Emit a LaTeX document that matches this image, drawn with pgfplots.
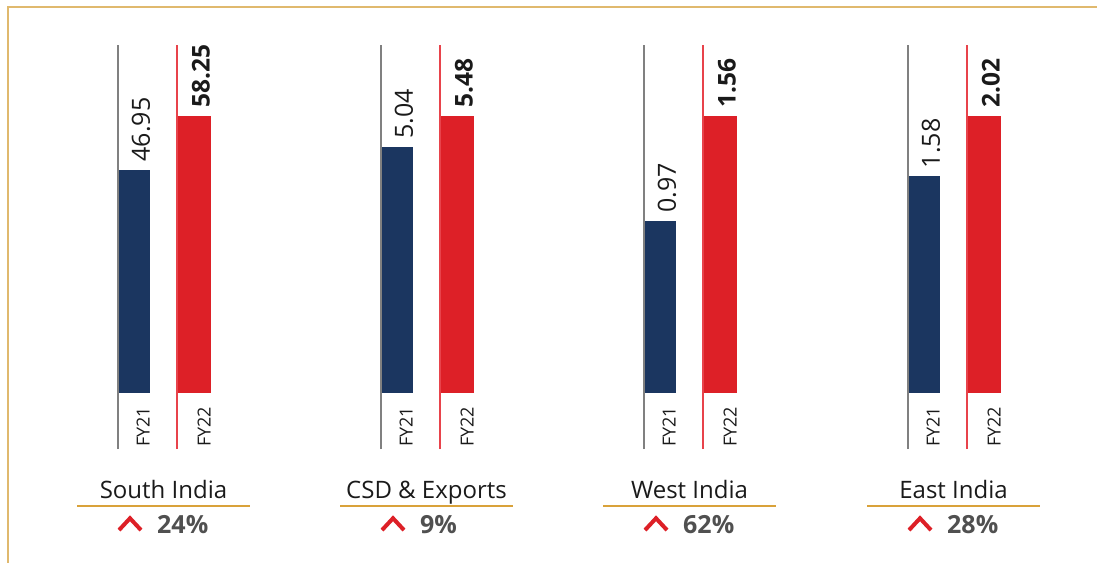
\documentclass[border=0pt]{standalone}
\usepackage{pgfplots}
\pgfplotsset{compat=1.18}
\usepackage{fontspec}
\setmainfont{Open Sans}

\definecolor{navy}{HTML}{1B3660}
\definecolor{bred}{HTML}{DD2027}
\definecolor{lred}{HTML}{E8434B}
\definecolor{framec}{HTML}{E0B96E}
\definecolor{gold}{HTML}{D9A23A}
\definecolor{pctgray}{HTML}{505050}
\definecolor{txt}{HTML}{1A1A1A}

\pgfplotsset{
  region/.style={
    at={(#1bp,170bp)}, anchor=south west,
    width=100bp, height=348bp, scale only axis,
    xmin=0, xmax=100,
    hide axis, clip mode=individual,
    ybar, bar shift=0pt,
    nodes near coords,
    /pgf/number format/.cd, fixed, fixed zerofill, precision=2, assume math mode=true,
    /pgfplots/.cd,
    every node near coord/.append style={xshift=7.5bp, yshift=8bp, rotate=90,
      anchor=west, inner sep=0pt, text=txt},
  }
}

% #1 left edge (px), #2 ymin, #3 ymax, #4 FY21, #5 FY22, #6 name, #7 growth
\newcommand\region[7]{%
  \begin{axis}[region=#1, ymin=#2, ymax=#3]
    \addplot[fill=navy, draw=none, bar width=33bp,
      every node near coord/.append style={font=\fontsize{25bp}{30bp}\selectfont}]
      coordinates {(16.5,#4)};
    \addplot[fill=bred, draw=none, bar width=35bp,
      every node near coord/.append style={font=\bfseries\fontsize{24.5bp}{30bp}\selectfont}]
      coordinates {(76.5,#5)};
    \draw[gray, line width=2.5bp] (rel axis cs:0.012,-0.161) -- (rel axis cs:0.012,1);
    \draw[lred, line width=2.5bp] (rel axis cs:0.602,-0.161) -- (rel axis cs:0.602,1);
    \node[rotate=90, anchor=west, inner sep=0pt, text=txt,
      font=\fontsize{18bp}{21bp}\selectfont] at (rel axis cs:0.26,-0.155) {FY21};
    \node[rotate=90, anchor=west, inner sep=0pt, text=txt,
      font=\fontsize{18bp}{21bp}\selectfont] at (rel axis cs:0.87,-0.155) {FY22};
    \node[anchor=base, inner sep=0pt, text=txt,
      font=\fontsize{24bp}{29bp}\selectfont] at (rel axis cs:0.465,-0.302) {#6};
    \draw[gold, line width=2bp] (rel axis cs:-0.40,-0.3247) -- (rel axis cs:1.33,-0.3247);
    \draw[bred, line width=4bp] (rel axis cs:0.02,-0.394) -- (rel axis cs:0.13,-0.36)
      -- (rel axis cs:0.24,-0.394);
    \node[anchor=base west, inner sep=0pt, text=pctgray,
      font=\bfseries\fontsize{25bp}{30bp}\selectfont] at (rel axis cs:0.40,-0.405) {#7\%};
  \end{axis}}

\begin{document}
\begin{tikzpicture}[x=1bp, y=1bp]
  \useasboundingbox (0,0) rectangle (1097,563);
  \draw[framec, line width=2bp] (8,0) -- (8,556) -- (1097,556);
  \region{117}{0}{73.18}{46.95}{58.25}{South India}{24}
  \region{380}{1.55}{6.49}{5.04}{5.48}{CSD \& Exports}{9}
  \region{643}{0}{1.96}{0.97}{1.56}{West India}{62}
  \region{907}{0}{2.538}{1.58}{2.02}{East India}{28}
\end{tikzpicture}
\end{document}
